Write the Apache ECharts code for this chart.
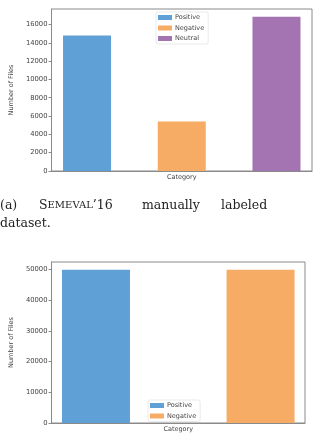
<!DOCTYPE html>
<html>
<head>
<meta charset="utf-8">
<script src="https://cdn.jsdelivr.net/npm/echarts@6/dist/echarts.min.js"></script>
<style>
  html, body { margin: 0; padding: 0; background: #fff; }
  #chart { width: 315px; height: 437px; }
</style>
</head>
<body>
<div id="chart"></div>
<script>
// top chart: SemEval'16
const topNames = ['Positive', 'Negative', 'Neutral'];
const topValues = [14800, 5400, 16850];
const topTicks = [0, 2000, 4000, 6000, 8000, 10000, 12000, 14000, 16000];

// bottom chart
const bottomNames = ['Positive', 'Negative'];
const bottomValues = [50000, 50000];
const bottomTicks = [0, 10000, 20000, 30000, 40000, 50000];

const colors = { Positive: '#5fa0d6', Negative: '#f6ac64', Neutral: '#a473b2' };

const axisGray = '#8a8a8a';
const textGray = '#444';
const font = 'DejaVu Sans';

function xAxisFor(gridIndex, min, max) {
  return {
    gridIndex: gridIndex,
    type: 'value',
    min: min,
    max: max,
    name: 'Category',
    nameLocation: 'middle',
    nameGap: 3,
    nameTextStyle: { fontSize: 6.5, color: textGray, fontFamily: font, verticalAlign: 'top' },
    axisLine: { show: true, onZero: false, lineStyle: { color: axisGray, width: 1 } },
    axisTick: { show: false },
    axisLabel: { show: false },
    splitLine: { show: false }
  };
}

function yAxisFor(gridIndex, max, ticks, gap) {
  return {
    gridIndex: gridIndex,
    type: 'value',
    min: 0,
    max: max,
    name: 'Number of Files',
    nameLocation: 'middle',
    nameRotate: 90,
    nameGap: gap,
    nameTextStyle: { fontSize: 6.5, color: textGray, fontFamily: font },
    axisLine: { show: true, onZero: false, lineStyle: { color: axisGray, width: 1 } },
    axisTick: { show: true, length: 3, customValues: ticks, lineStyle: { color: axisGray } },
    axisLabel: {
      customValues: ticks, fontSize: 6.8, color: textGray, fontFamily: font, margin: 4,
      formatter: v => String(v)
    },
    splitLine: { show: false }
  };
}

function barSeries(names, values, axisIndex, width) {
  return names.map((n, i) => ({
    name: n,
    type: 'bar',
    xAxisIndex: axisIndex,
    yAxisIndex: axisIndex,
    barWidth: width,
    barGap: '-100%',
    itemStyle: { color: colors[n] },
    data: [[i, values[i]]]
  }));
}

function legendFor(names, left, top) {
  return {
    data: names,
    orient: 'vertical',
    left: left,
    top: top,
    icon: 'rect',
    itemWidth: 14,
    itemHeight: 5,
    itemGap: 3.5,
    padding: [2, 4, 2, 2],
    backgroundColor: '#fff',
    borderColor: '#dcdcdc',
    borderWidth: 0.6,
    borderRadius: 2,
    textStyle: { fontSize: 6.5, color: textGray, fontFamily: font, padding: [0, 0, 0, -2] },
    selectedMode: false
  };
}

const serif = 'DejaVu Serif';
const capStyle = { fontSize: 12.5, fontFamily: serif, fill: '#222' };

const chart = echarts.init(document.getElementById('chart'));
chart.setOption({
  animation: false,
  backgroundColor: '#fff',
  grid: [
    { left: 48, top: 9, width: 264, height: 162, show: true, borderColor: axisGray, borderWidth: 1, containLabel: false },
    { left: 42, top: 262, width: 263, height: 161, show: true, borderColor: axisGray, borderWidth: 1, containLabel: false }
  ],
  xAxis: [xAxisFor(0, -0.375, 2.375), xAxisFor(1, -0.27, 1.27)],
  yAxis: [yAxisFor(0, 17692, topTicks, 25), yAxisFor(1, 52500, bottomTicks, 25.5)],
  legend: [legendFor(topNames, 156, 12), legendFor(bottomNames, 148, 400)],
  series: barSeries(topNames, topValues, 0, 48).concat(barSeries(bottomNames, bottomValues, 1, 68)),
  graphic: [
    { type: 'text', left: 0, top: 199, style: Object.assign({ text: '(a)' }, capStyle) },
    { type: 'text', left: 39, top: 199, style: Object.assign({}, capStyle, {
        text: '{a|S}{b|EMEVAL}{a|\u201916}',
        rich: {
          a: { fontSize: 12.5, fontFamily: serif, fill: '#222' },
          b: { fontSize: 10, fontFamily: serif, fill: '#222' }
        }
      }) },
    { type: 'text', left: 142, top: 199, style: Object.assign({ text: 'manually' }, capStyle) },
    { type: 'text', left: 221, top: 199, style: Object.assign({ text: 'labeled' }, capStyle) },
    { type: 'text', left: 0, top: 217, style: Object.assign({ text: 'dataset.' }, capStyle) }
  ]
});
</script>
</body>
</html>
